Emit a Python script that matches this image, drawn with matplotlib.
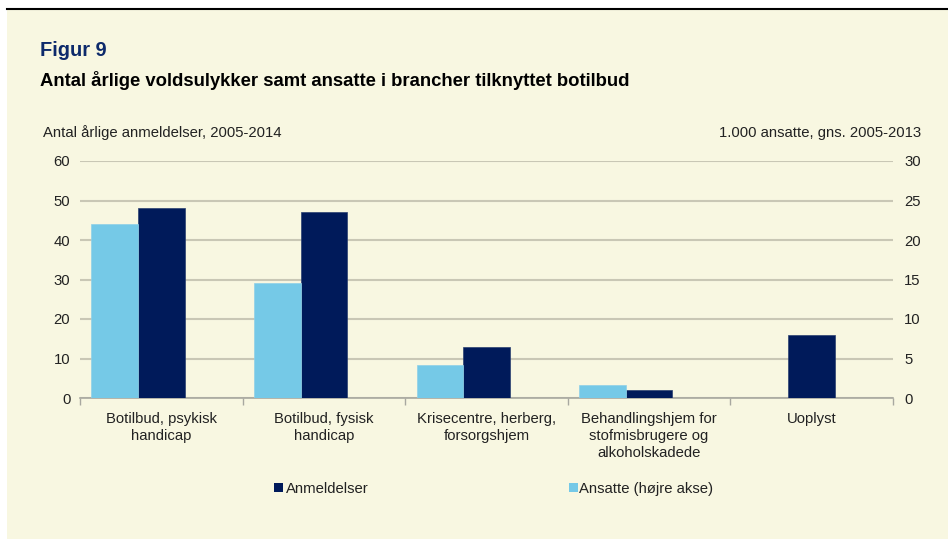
import numpy as np
import matplotlib
matplotlib.use("Agg")
import matplotlib.pyplot as plt
from matplotlib.patches import Rectangle, Patch
from matplotlib.lines import Line2D

categories = ["Botilbud, psykisk\nhandicap", "Botilbud, fysisk\nhandicap",
              "Krisecentre, herberg,\nforsorgshjem",
              "Behandlingshjem for\nstofmisbrugere og\nalkoholskadede", "Uoplyst"]
anmeldelser = [48, 47, 13, 2, 16]
ansatte = [22, 14.5, 4.2, 1.7, 0]
left_ticks = [0, 10, 20, 30, 40, 50, 60]
right_ticks = [0, 5, 10, 15, 20, 25, 30]

plt.rcParams['font.family'] = ['Liberation Sans', 'DejaVu Sans']

W, H = 948, 539
fig = plt.figure(figsize=(W / 100, H / 100), dpi=100)
fig.patch.set_facecolor('white')

cream = '#F8F7E1'
fig.patches.append(Rectangle((7 / W, 0), 1 - 7 / W, 1 - 10 / H, transform=fig.transFigure,
                             facecolor=cream, edgecolor='none', zorder=-10))
fig.lines.append(Line2D([7 / W, 1], [1 - 9 / H, 1 - 9 / H], transform=fig.transFigure,
                        color='black', lw=1.5))

dark = '#001A5A'
light = '#75C9E7'
grid = '#C9C7B5'
txt = '#222222'
fs = 10.75

ax = fig.add_axes([80 / W, 1 - 398 / H, (893 - 80) / W, (398 - 161) / H])
ax.set_facecolor('none')
x = np.arange(len(categories))
w = 0.287
ax.bar(x, anmeldelser, width=w, color=dark, edgecolor='#2a3f70', linewidth=0.5, zorder=3)
ax.set_ylim(0, 60)
ax.set_yticks(left_ticks)
ax.set_xlim(-0.5, len(categories) - 0.5)
ax.yaxis.grid(True, color=grid, lw=1.5)
ax.set_axisbelow(True)
for s in ['top', 'left', 'right']:
    ax.spines[s].set_visible(False)
ax.spines['bottom'].set_color('#A8A8A0')
ax.spines['bottom'].set_linewidth(1.2)
ax.set_xticks(np.arange(-0.5, len(categories)), labels=[''] * (len(categories) + 1))
ax.set_xticks(x, labels=categories, minor=True)
ax.tick_params(axis='x', which='major', length=5, color='#A8A8A0', width=1)
ax.tick_params(axis='x', which='minor', length=0, pad=10, labelsize=fs, labelcolor=txt)
ax.tick_params(axis='y', length=0, pad=7, labelsize=fs, labelcolor=txt)
for lab in ax.get_xticklabels(minor=True):
    lab.set_linespacing(1.3)

ax2 = ax.twinx()
ax2.bar(x - w, ansatte, width=w, color=light, edgecolor='#8fd0e8', linewidth=0.5, zorder=3)
ax2.set_ylim(0, 30)
ax2.set_yticks(right_ticks)
for s in ['top', 'left', 'right', 'bottom']:
    ax2.spines[s].set_visible(False)
ax2.tick_params(axis='y', length=0, pad=8, labelsize=fs, labelcolor=txt)

fig.text(40 / W, 1 - 50 / H, "Figur 9", fontsize=14.4, fontweight='bold', color='#0D2A6B',
         va='center', ha='left')
fig.text(40 / W, 1 - 80 / H, "Antal årlige voldsulykker samt ansatte i brancher tilknyttet botilbud",
         fontsize=13.3, fontweight='bold', color='black', va='center', ha='left')
fig.text(43 / W, 1 - 133 / H, "Antal årlige anmeldelser, 2005-2014", fontsize=fs, color=txt,
         va='center', ha='left')
fig.text(921 / W, 1 - 133 / H, "1.000 ansatte, gns. 2005-2013", fontsize=fs, color=txt,
         va='center', ha='right')

leg1 = fig.legend(handles=[Patch(facecolor=dark, label='Anmeldelser')],
                  loc='center left', bbox_to_anchor=(261 / W, 1 - 489 / H), frameon=False,
                  handlelength=0.55, handleheight=0.55, handletextpad=0.25, fontsize=fs)
leg2 = fig.legend(handles=[Patch(facecolor=light, label='Ansatte (højre akse)')],
                  loc='center left', bbox_to_anchor=(556 / W, 1 - 489 / H), frameon=False,
                  handlelength=0.55, handleheight=0.55, handletextpad=0.12, fontsize=fs)
for lg in (leg1, leg2):
    for t in lg.get_texts():
        t.set_color(txt)

fig.savefig('out.png', dpi=100, facecolor=fig.get_facecolor())
